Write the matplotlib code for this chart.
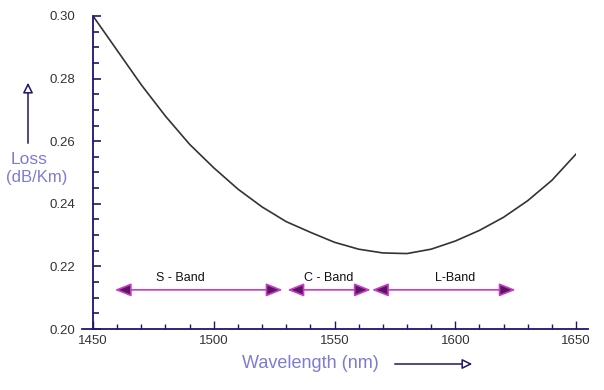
import numpy as np
import matplotlib.pyplot as plt
from matplotlib.ticker import MultipleLocator

# loss curve
wavelength = [1450, 1460, 1470, 1480, 1490, 1500, 1510, 1520, 1530, 1540, 1550,
              1560, 1570, 1580, 1590, 1600, 1610, 1620, 1630, 1640, 1650]
loss = [0.300, 0.289, 0.278, 0.268, 0.259, 0.2515, 0.2447, 0.239, 0.2343, 0.2309, 0.2277,
        0.2255, 0.2243, 0.2241, 0.2255, 0.2281, 0.2315, 0.2357, 0.2410, 0.2475, 0.2559]

# telecom bands (arrow ends) and label positions
band_names = ['S - Band', 'C - Band', 'L-Band']
band_start = [1459, 1530.5, 1565.5]
band_end = [1528.5, 1565, 1625]
band_label_x = [1486, 1547.5, 1600]
band_y = 0.2125

navy = '#1b1670'
lav = '#7c7cd2'

fig = plt.figure(figsize=(6.04, 3.90), dpi=100)
ax = fig.add_axes([0.154, 0.1564, 0.7997, 0.8026])

ax.plot(wavelength, loss, color='#333333', lw=1.2)

for name, s, e, lx in zip(band_names, band_start, band_end, band_label_x):
    ax.annotate('', xy=(e, band_y), xytext=(s, band_y),
                arrowprops=dict(arrowstyle='<|-|>,head_length=1.0,head_width=0.4',
                                fc='#5a1660', ec='#c83cc8', lw=1.2,
                                shrinkA=0, shrinkB=0))
    ax.text(lx, band_y + 0.0038, name, ha='center', va='center', fontsize=9,
            family='Liberation Sans', color='#111111')

ax.set_xlim(1450, 1650)
ax.set_ylim(0.20, 0.30)
ax.xaxis.set_major_locator(MultipleLocator(50))
ax.xaxis.set_minor_locator(MultipleLocator(10))
ax.yaxis.set_major_locator(MultipleLocator(0.02))
ax.yaxis.set_minor_locator(MultipleLocator(0.005))
ax.yaxis.set_major_formatter(plt.FuncFormatter(lambda v, p: '%.2f' % v))
ax.xaxis.set_major_formatter(plt.FuncFormatter(lambda v, p: '%d' % v))

ax.tick_params(axis='y', which='major', direction='in', length=5.5, width=1.2,
               color=navy, pad=13, labelsize=9.5, labelcolor='#333333')
ax.tick_params(axis='y', which='minor', direction='in', length=4.5, width=1.2, color=navy)
ax.tick_params(axis='x', which='major', direction='in', length=5.5, width=1,
               color=navy, pad=4, labelsize=9.5, labelcolor='#333333')
ax.tick_params(axis='x', which='minor', direction='in', length=3.5, width=1, color=navy)
for lab in ax.get_xticklabels() + ax.get_yticklabels():
    lab.set_family('Liberation Sans')

for sp in ['top', 'right', 'bottom']:
    ax.spines[sp].set_visible(False)
ax.spines['left'].set_color(navy)
ax.spines['left'].set_linewidth(1.3)
ax.plot([-0.023, 1.025], [0, 0], transform=ax.transAxes, color=navy, lw=1.3,
        clip_on=False)

# axis titles with their little arrows
fig.text(29 / 604, 1 - 160 / 390, 'Loss', ha='center', va='center', fontsize=12.5,
         color=lav, family='Liberation Sans')
fig.text(37 / 604, 1 - 178 / 390, '(dB/Km)', ha='center', va='center', fontsize=12,
         color=lav, family='Liberation Sans')
fig.text(310 / 604, 1 - 364 / 390, 'Wavelength (nm)', ha='center', va='center',
         fontsize=13, color=lav, family='Liberation Sans')
fig.patches.append(plt.matplotlib.patches.FancyArrowPatch(
    (28 / 604, 1 - 146 / 390), (28 / 604, 1 - 80 / 390), transform=fig.transFigure,
    arrowstyle='-|>,head_length=6,head_width=3', fc='white', ec=navy, lw=1.1))
fig.patches.append(plt.matplotlib.patches.FancyArrowPatch(
    (392 / 604, 1 - 364 / 390), (475 / 604, 1 - 364 / 390), transform=fig.transFigure,
    arrowstyle='-|>,head_length=6,head_width=3', fc='white', ec=navy, lw=1.1))

fig.savefig('out.png', dpi=100)
